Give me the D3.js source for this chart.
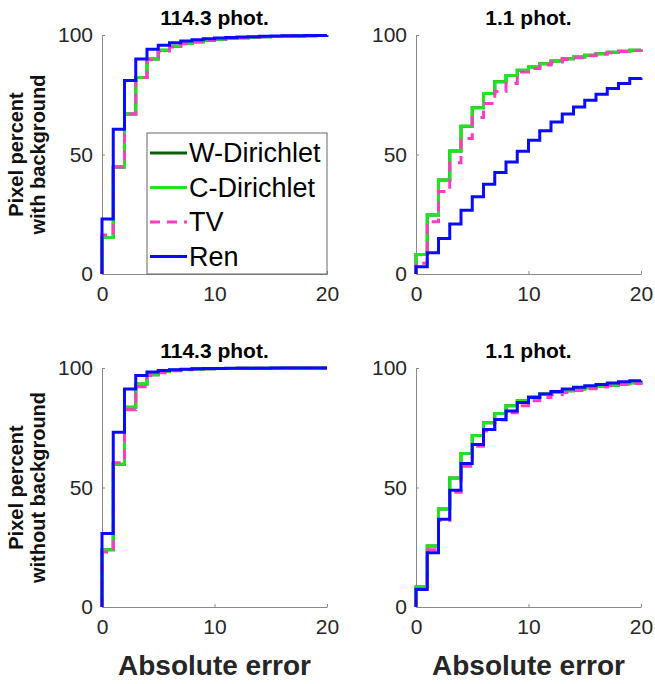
<!DOCTYPE html>
<html>
<head>
  <script src="https://d3js.org/d3.v7.min.js"></script>
  <style>
    body { margin: 0; background: #fff; }
    svg { font-family: "Liberation Sans", Arial, sans-serif; }
  </style>
</head>
<body>
  <svg width="655" height="684"></svg>
  <script>
    // absolute error bins
    var errors = [0, 1, 2, 3, 4, 5, 6, 7, 8, 9, 10, 11, 12, 13, 14, 15, 16, 17, 18, 19, 20];

    // with background, 114.3 phot.
    var wdirWith114 = [15.3, 44.8, 66.9, 82.2, 90.0, 93.6, 95.3, 96.4, 97.2, 97.8, 98.2, 98.6, 98.9, 99.1, 99.3, 99.4, 99.5, 99.6, 99.7, 99.8, 99.8];
    var cdirWith114 = [15.3, 44.8, 66.9, 82.2, 90.0, 93.6, 95.3, 96.4, 97.2, 97.8, 98.2, 98.6, 98.9, 99.1, 99.3, 99.4, 99.5, 99.6, 99.7, 99.8, 99.8];
    var tvWith114   = [16.3, 44.8, 66.9, 82.2, 89.6, 93.3, 95.0, 96.3, 97.1, 97.7, 98.2, 98.6, 98.9, 99.1, 99.3, 99.4, 99.5, 99.6, 99.7, 99.8, 99.8];
    var renWith114  = [23.0, 60.6, 81.0, 90.0, 94.0, 95.7, 96.8, 97.5, 98.0, 98.4, 98.7, 99.0, 99.2, 99.3, 99.5, 99.6, 99.7, 99.7, 99.8, 99.8, 99.9];

    // with background, 1.1 phot.
    var wdirWith11 = [8.2, 24.7, 39.3, 51.5, 61.8, 69.6, 75.5, 80.4, 83.1, 85.2, 86.6, 88.0, 89.1, 90.1, 90.8, 91.5, 92.2, 92.8, 93.2, 93.6, 93.9];
    var cdirWith11 = [8.2, 24.7, 39.3, 51.5, 61.8, 69.6, 75.5, 80.4, 83.1, 85.2, 86.6, 88.0, 89.1, 90.1, 90.8, 91.5, 92.2, 92.8, 93.2, 93.6, 93.9];
    var tvWith11   = [4.5, 21.9, 34.5, 46.5, 56.7, 65.5, 71.3, 76.4, 79.7, 84.5, 86.0, 87.5, 88.7, 89.7, 90.5, 91.3, 92.0, 92.6, 93.1, 93.5, 93.8];
    var renWith11  = [3.0, 8.9, 14.9, 20.9, 26.7, 32.3, 37.6, 42.5, 46.9, 51.4, 56.0, 59.9, 63.6, 66.9, 69.9, 72.7, 75.2, 77.6, 79.7, 81.8, 82.2];

    // without background, 114.3 phot.
    var wdirWithout114 = [24.0, 59.7, 83.6, 93.3, 97.2, 98.5, 99.1, 99.4, 99.6, 99.7, 99.8, 99.8, 99.9, 99.9, 99.9, 99.9, 100, 100, 100, 100, 100];
    var cdirWithout114 = [24.0, 59.7, 83.6, 93.3, 97.2, 98.5, 99.1, 99.4, 99.6, 99.7, 99.8, 99.8, 99.9, 99.9, 99.9, 99.9, 100, 100, 100, 100, 100];
    var tvWithout114   = [23.0, 60.4, 82.5, 92.2, 96.9, 98.0, 98.9, 99.3, 99.5, 99.7, 99.8, 99.8, 99.9, 99.9, 99.9, 99.9, 100, 100, 100, 100, 100];
    var renWithout114  = [30.8, 73.1, 91.2, 96.9, 98.3, 99.0, 99.3, 99.5, 99.7, 99.8, 99.8, 99.9, 99.9, 99.9, 99.9, 100, 100, 100, 100, 100, 100];

    // without background, 1.1 phot.
    var wdirWithout11 = [8.4, 25.5, 41.0, 54.0, 64.2, 71.8, 77.1, 81.0, 84.2, 86.3, 87.9, 89.1, 89.8, 90.5, 91.2, 91.7, 92.3, 92.8, 93.4, 93.8, 94.0];
    var cdirWithout11 = [8.4, 25.5, 41.0, 54.0, 64.2, 71.8, 77.1, 81.0, 84.2, 86.3, 87.9, 89.1, 89.8, 90.5, 91.2, 91.7, 92.3, 92.8, 93.4, 93.8, 94.0];
    var tvWithout11   = [7.7, 24.0, 36.2, 48.0, 58.9, 67.3, 73.6, 78.2, 81.3, 84.2, 86.3, 87.7, 88.8, 89.8, 90.6, 91.3, 92.0, 92.6, 93.1, 93.5, 93.7];
    var renWithout11  = [7.3, 22.7, 36.7, 48.8, 60.0, 68.0, 74.3, 78.5, 82.0, 85.6, 87.7, 89.1, 90.2, 91.2, 91.9, 92.6, 93.1, 93.7, 94.2, 94.7, 94.8];

    var methods = ["W-Dirichlet", "C-Dirichlet", "TV", "Ren"];
    var colors = { "W-Dirichlet": "#0b5d0b", "C-Dirichlet": "#1ee61e", "TV": "#ff3cc2", "Ren": "#0a0aff" };
    var dashes = { "W-Dirichlet": null, "C-Dirichlet": null, "TV": "10,7", "Ren": null };

    var xTicks = [0, 10, 20];
    var yTicks = [0, 50, 100];

    var panels = [
      { title: "114.3 phot.", left: 102, top: 35, series: [wdirWith114, cdirWith114, tvWith114, renWith114], ylab: ["Pixel percent", "with background"], legend: true },
      { title: "1.1 phot.", left: 416, top: 35, series: [wdirWith11, cdirWith11, tvWith11, renWith11] },
      { title: "114.3 phot.", left: 102, top: 368, series: [wdirWithout114, cdirWithout114, tvWithout114, renWithout114], ylab: ["Pixel percent", "without background"], xlab: true },
      { title: "1.1 phot.", left: 416, top: 368, series: [wdirWithout11, cdirWithout11, tvWithout11, renWithout11], xlab: true }
    ];

    var W = 225, H = 239;
    var svg = d3.select("svg");

    panels.forEach(function(p) {
      var g = svg.append("g").attr("transform", "translate(" + p.left + "," + p.top + ")");
      var x = d3.scaleLinear().domain([0, 20]).range([0, W]);
      var y = d3.scaleLinear().domain([0, 100]).range([H, 0]);

      // axes (matlab style, ticks inward, box off)
      var xa = g.append("g").attr("transform", "translate(0," + H + ")")
        .call(d3.axisBottom(x).tickValues(xTicks).tickSizeInner(-3).tickSizeOuter(0).tickPadding(12));
      var ya = g.append("g")
        .call(d3.axisLeft(y).tickValues(yTicks).tickSizeInner(-3).tickSizeOuter(0).tickPadding(9));
      [xa, ya].forEach(function(a) {
        a.select(".domain").attr("stroke", "#8a8a8a");
        a.selectAll(".tick line").attr("stroke", "#8a8a8a");
        a.selectAll(".tick text").attr("fill", "#262626").style("font-size", "21px")
          .style("font-family", "'Liberation Sans', Arial, sans-serif");
      });

      var line = d3.line()
        .x(function(d) { return x(d[0]); })
        .y(function(d) { return y(d[1]); })
        .curve(d3.curveStepAfter);

      p.series.forEach(function(vals, i) {
        var pts = [[0, 0]].concat(errors.map(function(e, j) { return [e, vals[j]]; }));
        g.append("path")
          .attr("d", line(pts))
          .attr("fill", "none")
          .attr("stroke", colors[methods[i]])
          .attr("stroke-width", 3)
          .attr("stroke-dasharray", dashes[methods[i]]);
      });

      g.append("text")
        .attr("x", W / 2).attr("y", -10)
        .attr("text-anchor", "middle")
        .style("font-weight", "bold").style("font-size", "21px")
        .text(p.title);

      if (p.ylab) {
        p.ylab.forEach(function(t, k) {
          svg.append("text")
            .attr("transform", "translate(" + (23 + k * 22) + "," + (p.top + H / 2) + ") rotate(-90)")
            .attr("text-anchor", "middle")
            .style("font-weight", "bold").style("font-size", "20px")
            .attr("fill", "#111")
            .text(t);
        });
      }

      if (p.xlab) {
        g.append("text")
          .attr("x", W / 2).attr("y", H + 68)
          .attr("text-anchor", "middle")
          .style("font-weight", "bold").style("font-size", "28px")
          .attr("fill", "#262626")
          .text("Absolute error");
      }

      if (p.legend) {
        var lg = g.append("g").attr("transform", "translate(45,98)");
        lg.append("rect").attr("width", 180).attr("height", 141)
          .attr("fill", "#fff").attr("stroke", "#666").attr("stroke-width", 1);
        methods.forEach(function(m, k) {
          var cy = 20 + k * 34.5;
          lg.append("line").attr("x1", 3).attr("x2", 40).attr("y1", cy).attr("y2", cy)
            .attr("stroke", colors[m]).attr("stroke-width", 3)
            .attr("stroke-dasharray", dashes[m]);
          lg.append("text").attr("x", 42).attr("y", cy + 9)
            .style("font-size", "27px").attr("fill", "#000")
            .text(m);
        });
      }
    });
  </script>
</body>
</html>
